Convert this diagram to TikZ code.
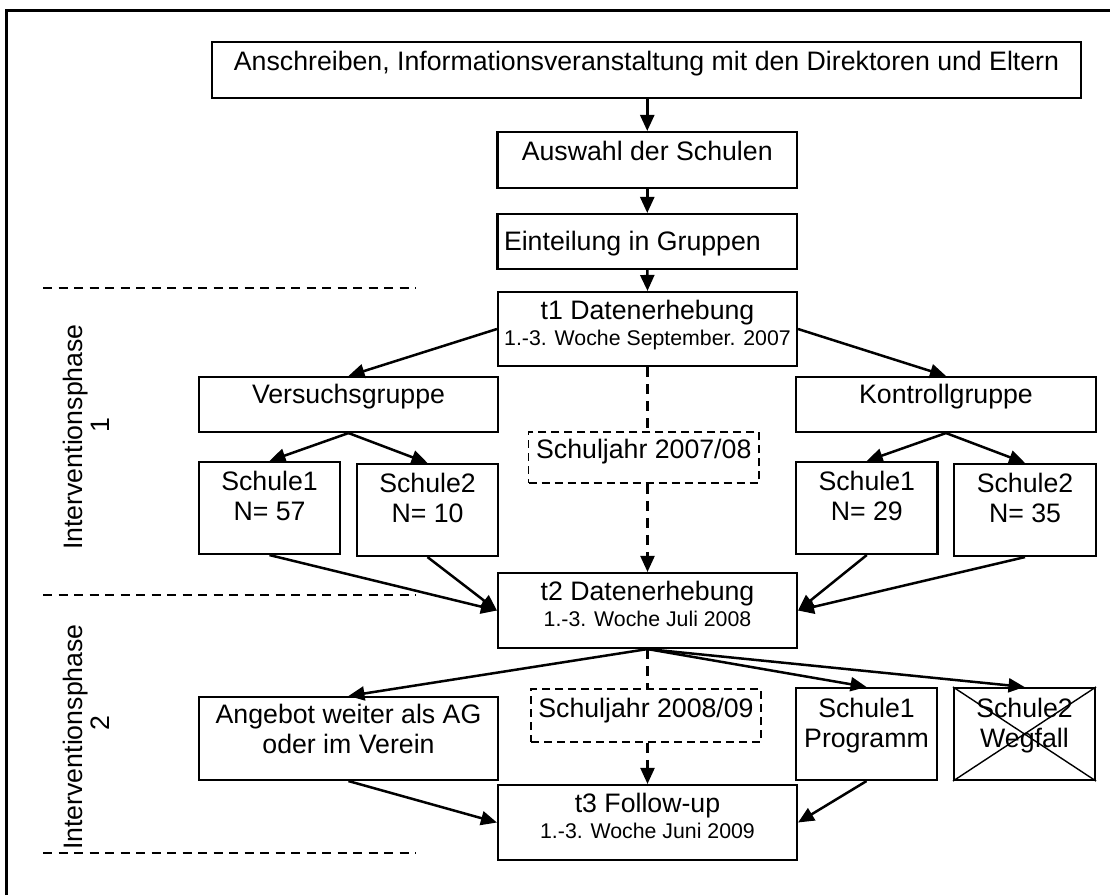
\documentclass[tikz,border=0pt]{standalone}
\usepackage{fontspec}
\setmainfont{Liberation Sans}
\usetikzlibrary{arrows.meta}
\newcommand\bigtxt{\fontsize{26.7pt}{30.5pt}\selectfont}
\newcommand\smalltxt{\fontsize{21.3pt}{25pt}\selectfont}
\newcommand\stack[1]{\begin{tabular}[t]{@{}c@{}}#1\end{tabular}}

\begin{document}
\begin{tikzpicture}[x=1pt,y=-1pt,
  box/.style={draw, line width=2.1pt, inner sep=0pt, font=\bigtxt},
  dbox/.style={box, line width=1.7pt, dash pattern=on 8pt off 5pt},
  sz/.style n args={3}{minimum width=#1pt, text height=#2pt, text depth=#3pt},
  tip/.style={-{Triangle[length=16pt,width=14pt]}},
  conn/.style={line width=2.5pt, tip},
  dconn/.style={line width=2.2pt, dash pattern=on 10pt off 7pt},
  sep/.style={line width=1.7pt, dash pattern=on 9pt off 6.5pt},
  phase/.style={rotate=90, anchor=base, inner sep=0pt, font=\bigtxt}
]
\useasboundingbox (0,0) rectangle (1110,895);
\fill[white] (0,0) rectangle (1110,895);

% page frame
\draw[line width=2.2pt] (6.5,895) -- (6.5,10.5) -- (1110,10.5);

% phase separators
\draw[sep] (43,288) -- (416,288);
\draw[sep] (43,595) -- (416,595);
\draw[sep] (43,853) -- (416,853);

% phase labels
\node[phase] (ph1) at (82,437) {\stack{Interventionsphase\\[-3pt]\hspace*{24pt}1}};
\node[phase] (ph2) at (82,737) {\stack{Interventionsphase\\[-3pt]\hspace*{28pt}2}};

% preparation
\node[box, sz={869}{28}{28}] (top) at (646.5,70)
  {Anschreiben, Informationsveranstaltung mit den Direktoren und Eltern};
\node[box, sz={299.5}{28}{28}] (auswahl) at (647.25,160) {Auswahl der Schulen};
\node[box, sz={299.5}{36.5}{18.5}] (eint) at (647.25,241.5)
  {\makebox[299.5pt][l]{\hspace{6.5pt}Einteilung in Gruppen}};

% phase 1
\node[box, sz={299}{27}{47}] (t1) at (647.5,329)
  {\stack{t1 Datenerhebung\\[-4.5pt]{\smalltxt 1.-3. Woche September. 2007}}};
\node[box, sz={299}{26}{29}] (vg) at (348.5,404.5) {Versuchsgruppe};
\node[box, sz={300}{26}{29}] (kg) at (946,404.5) {Kontrollgruppe};
\node[box, sz={141}{28}{64}] (vs1) at (269.5,508) {\stack{Schule1\\N= 57}};
\node[box, sz={141}{28}{64}] (vs2) at (427.5,510) {\stack{Schule2\\N= 10}};
\node[box, sz={141.5}{28}{64}] (ks1) at (866.75,508) {\stack{Schule1\\N= 29}};
\node[box, sz={142}{28}{64}] (ks2) at (1025,510) {\stack{Schule2\\N= 35}};
\node[dbox, sz={230.4}{26}{25}] (sj1) at (643.8,457.5) {Schuljahr 2007/08};

% phase 2
\node[box, sz={299}{27}{48}] (t2) at (647.5,610.5)
  {\stack{t2 Datenerhebung\\[-4.5pt]{\smalltxt 1.-3. Woche Juli 2008}}};
\node[box, sz={299}{26}{57}] (ang) at (348.5,738.5)
  {\stack{Angebot weiter als AG\\[-0.5pt]oder im Verein}};
\node[dbox, sz={230}{28}{25}] (sj2) at (646,715.5) {Schuljahr 2008/09};
\node[box, sz={141}{29}{63}] (sp) at (866.5,734) {\stack{Schule1\\[-0.5pt]Programm}};
\node[box, sz={141}{29}{63}] (sw) at (1024.5,734) {\stack{Schule2\\[-0.5pt]Wegfall}};
\draw[line width=1.4pt] (sw.north west) -- (sw.south east)
                        (sw.south west) -- (sw.north east);
\node[box, sz={299}{27}{48}] (t3) at (647.5,822.5)
  {\stack{t3 Follow-up\\[-4.5pt]{\smalltxt 1.-3. Woche Juni 2009}}};

% solid connectors
\draw[conn] (auswahl.north |- top.south) -- (auswahl.north);
\draw[conn] (auswahl.south) -- (eint.north);
\draw[conn] (eint.south) -- (t1.north);
\draw[conn] (t1.west) -- (vg.north);
\draw[conn] (t1.east) -- (kg.north);
\draw[conn] (vg.south) -- (vs1.north);
\draw[conn] (vg.south) -- (vs2.north);
\draw[conn] (kg.south) -- (ks1.north);
\draw[conn] (kg.south) -- (ks2.north);
\draw[conn] (vs1.south) -- (t2.west);
\draw[conn] (vs2.south) -- (t2.west);
\draw[conn] (ks1.south) -- (t2.east);
\draw[conn] (ks2.south) -- (t2.east);
\draw[conn] (t2.south) -- (ang.north);
\draw[conn] (t2.south) -- (sp.north);
\draw[conn] (t2.south) -- (sw.north);
\draw[conn] (ang.south) -- (t3.west);
\draw[conn] (sp.south) -- (t3.east);

% school-year connectors
\draw[dconn] (t1.south) -- (t1.south |- sj1.north);
\draw[dconn, tip] (t1.south |- sj1.south) -- (t2.north);
\draw[dconn] (t2.south) -- (t2.south |- sj2.north);
\draw[dconn, tip] (t2.south |- sj2.south) -- (t3.north);
\end{tikzpicture}
\end{document}
